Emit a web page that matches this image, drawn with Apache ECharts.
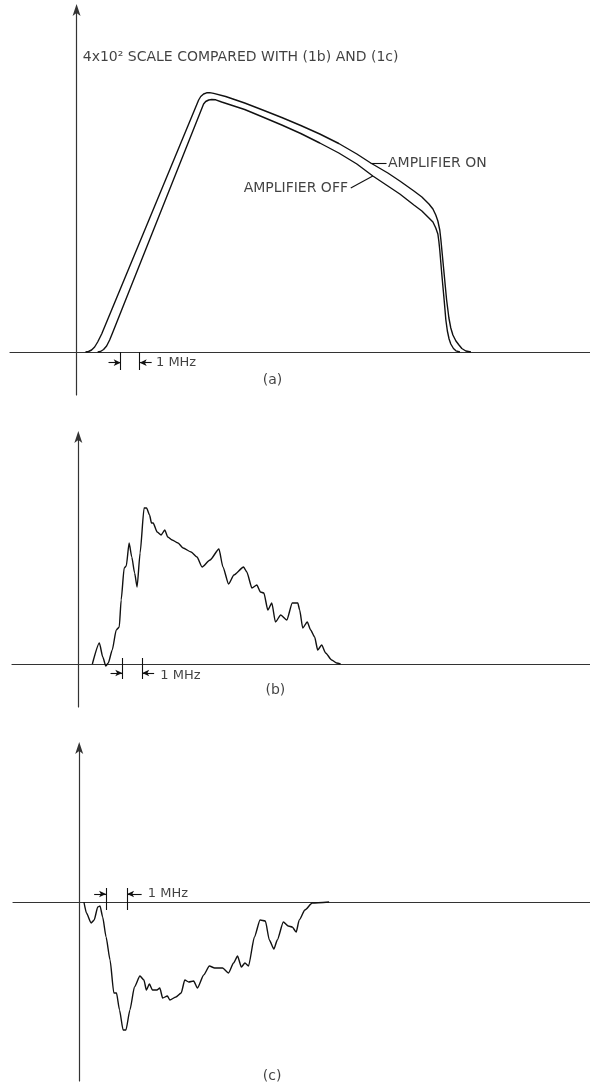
<!DOCTYPE html>
<html><head><meta charset="utf-8">
<script src="https://cdn.jsdelivr.net/npm/echarts@6/dist/echarts.min.js"></script>
<style>html,body{margin:0;padding:0;background:#fff}#c{width:590px;height:1084px}</style>
</head><body><div id="c"></div>
<script>
// x: frequency offset in MHz from the vertical axis; y: relative amplitude (arbitrary units)
// Panel (a)
const aOnX  = [0.47,0.63,0.79,0.95,1.11,1.32,6.42,6.53,6.68,6.84,7.0,7.21,7.84,8.84,9.79,10.79,11.79,12.79,13.79,14.74,15.47,16.37,17.0,17.74,18.16,18.53,18.74,18.89,19.0,19.1,19.16,19.26,19.46,19.58,19.68,19.79,19.95,20.11,20.26,20.47,20.74];
const aOnY  = [0,0.05,0.2,0.5,1.0,1.8,25.2,25.55,25.8,25.92,25.94,25.86,25.55,24.9,24.2,23.45,22.65,21.8,20.85,19.8,18.9,17.9,17.1,16.1,15.5,14.8,14.3,13.7,13.1,12.2,11.2,9.2,5.2,3.4,2.4,1.7,1.1,0.7,0.35,0.1,0];
const aOffX = [1.11,1.26,1.42,1.58,1.74,1.89,6.68,6.79,6.95,7.11,7.32,7.63,8.84,9.79,10.79,11.79,12.79,13.79,14.74,15.58,16.37,17.0,17.74,18.16,18.53,18.74,18.89,19.0,19.05,19.1,19.21,19.33,19.42,19.5,19.59,19.68,19.82,19.95,20.16];
const aOffY = [0,0.05,0.25,0.6,1.2,1.9,24.8,25.05,25.2,25.25,25.22,25.0,24.25,23.5,22.7,21.85,20.9,19.9,18.8,17.6,16.6,15.8,14.7,14.1,13.4,13.0,12.4,11.8,11.1,10.2,7.7,5.2,3.2,2.1,1.3,0.8,0.35,0.12,0];
// Panel (b)
const bX = [0.74,1.11,1.29,1.45,1.58,1.79,2.0,2.16,2.26,2.42,2.53,2.68,2.82,2.97,3.1,3.26,3.47,3.6,3.76,3.86,3.95,4.16,4.37,4.56,4.72,4.95,5.26,5.53,5.95,6.26,6.53,6.95,7.42,7.63,7.93,8.21,8.72,8.89,9.16,9.42,9.61,9.79,10.0,10.21,10.4,10.68,11.0,11.29,11.58,11.68,11.84,12.08,12.26,12.47,12.63,12.84,13.05,13.37,13.63,13.84];
const bY = [0,2.1,0.7,-0.2,0.1,1.4,3.4,3.7,6.4,9.6,9.8,12.1,10.7,9.1,7.7,11.1,15.6,15.6,14.9,14.1,14.1,13.2,12.9,13.4,12.7,12.4,12.1,11.6,11.2,10.7,9.7,10.4,11.5,9.7,8.0,8.9,9.7,9.2,7.6,7.9,7.2,7.1,5.4,6.1,4.2,4.9,4.4,6.1,6.1,5.4,3.6,4.2,3.4,2.7,1.4,1.9,1.1,0.4,0.1,0];
// Panel (c)
const cX = [0.25,0.38,0.63,0.79,0.98,1.1,1.24,1.42,1.63,1.83,1.97,2.13,2.32,2.47,2.68,2.92,3.21,3.42,3.55,3.71,3.87,4.11,4.26,4.41,4.66,4.79,5.11,5.39,5.58,5.79,6.05,6.25,6.58,6.88,7.16,7.58,7.89,8.16,8.37,8.57,8.76,8.95,9.26,9.56,9.84,10.05,10.29,10.47,10.79,11.05,11.26,11.47,11.63,11.93,12.32,13.21];
const cY = [0,-1.1,-2.1,-1.8,-0.5,-0.4,-1.5,-3.5,-5.8,-9.1,-9.1,-10.8,-12.8,-12.8,-10.8,-8.5,-7.4,-7.8,-8.8,-8.2,-8.8,-8.8,-8.6,-9.6,-9.4,-9.8,-9.5,-9.1,-7.8,-8.0,-7.9,-8.6,-7.3,-6.4,-6.6,-6.6,-7.1,-6.1,-5.4,-6.5,-6.1,-6.4,-3.5,-1.8,-1.9,-3.8,-4.7,-3.8,-2.0,-2.4,-2.5,-3.0,-1.8,-0.8,-0.1,0];
// 1 MHz scale markers (MHz)
const mhzA = [2.32, 3.32];
const mhzB = [2.32, 3.37];
const mhzC = [1.42, 2.53];
// Texts
const titleText = '4x10² SCALE COMPARED WITH (1b) AND (1c)';
const labelOn = 'AMPLIFIER ON';
const labelOff = 'AMPLIFIER OFF';
const mhzText = '1 MHz';
const panelNames = ['(a)', '(b)', '(c)'];

const zip = (xs, ys) => xs.map((x, i) => [x, ys[i]]);
const INK = '#111';
const FONT = 'DejaVu Sans';

const grids = [
  {left: 10, width: 580, top: 10, height: 385},
  {left: 12, width: 580, top: 437, height: 270},
  {left: 13, width: 580, top: 748, height: 333}
];
const yRanges = [[-4.3, 34.2], [-4.3, 22.7], [-17.9, 15.4]];

const xAxes = grids.map((g, i) => ({
  type: 'value', gridIndex: i, min: -3.5, max: 27,
  axisLine: {show: true, onZero: true, lineStyle: {color: '#333', width: 1.2}},
  axisTick: {show: false}, axisLabel: {show: false}, splitLine: {show: false}
}));
const yAxes = grids.map((g, i) => ({
  type: 'value', gridIndex: i, min: yRanges[i][0], max: yRanges[i][1],
  axisLine: {show: true, onZero: true, symbol: ['none', 'arrow'], symbolSize: [6, 12], symbolOffset: [0, 6],
    lineStyle: {color: '#333', width: 1.2}},
  axisTick: {show: false}, axisLabel: {show: false}, splitLine: {show: false}
}));

const curve = (data, i, smooth) => ({
  type: 'line', xAxisIndex: i, yAxisIndex: i, data, showSymbol: false, symbol: 'none',
  smooth: smooth, smoothMonotone: 'x', silent: true,
  lineStyle: {color: INK, width: 1.4}
});

function scaleMarker(xs, yTop, yBot, yArr, leftStart, rightStart) {
  return [
    [{coord: [xs[0], yTop]}, {coord: [xs[0], yBot]}],
    [{coord: [xs[1], yTop]}, {coord: [xs[1], yBot]}],
    [{coord: [leftStart, yArr]}, {coord: [xs[0], yArr], symbol: 'arrow', symbolSize: [5, 7]}],
    [{coord: [rightStart, yArr]}, {coord: [xs[1], yArr], symbol: 'arrow', symbolSize: [5, 7]}]
  ];
}

const textStyle = {color: INK, fontFamily: FONT, fontSize: 14};
function textSeries(i, items, extraMarkLines) {
  return {
    type: 'scatter', xAxisIndex: i, yAxisIndex: i, symbolSize: 1, silent: true,
    itemStyle: {color: 'transparent'},
    data: items.map(t => ({
      value: t.at, name: t.text,
      label: Object.assign({show: true, formatter: t.text, position: t.pos || 'right', distance: 0}, textStyle, t.style || {})
    })),
    markLine: {
      silent: true, animation: false, symbol: ['none', 'none'], label: {show: false},
      lineStyle: {color: INK, width: 1.1, type: 'solid'},
      emphasis: {disabled: true},
      data: extraMarkLines
    }
  };
}

const leaders = [
  [{coord: [15.47, 18.9]}, {coord: [16.3, 18.9]}],
  [{coord: [14.42, 16.4], lineStyle: {curveness: -0.3}}, {coord: [15.58, 17.6]}]
];

const option = {
  animation: false,
  backgroundColor: '#fff',
  grid: grids,
  xAxis: xAxes,
  yAxis: yAxes,
  series: [
    curve(zip(aOnX, aOnY), 0, false),
    curve(zip(aOffX, aOffY), 0, false),
    curve(zip(bX, bY), 1, 0.2),
    curve(zip(cX, cY), 2, 0.2),
    textSeries(0, [
      {at: [0.3, 29.5], text: titleText},
      {at: [16.35, 18.9], text: labelOn},
      {at: [14.3, 16.4], text: labelOff, pos: 'left'},
      {at: [4.15, -1.1], text: mhzText, style: {fontSize: 13}},
      {at: [10.3, -2.8], text: panelNames[0], pos: 'inside'}
    ], scaleMarker(mhzA, 0, -1.8, -1.07, 1.68, 3.95).concat(leaders)),
    textSeries(1, [
      {at: [4.3, -1.2], text: mhzText, style: {fontSize: 13}},
      {at: [10.4, -2.6], text: panelNames[1], pos: 'inside'}
    ], scaleMarker(mhzB, 0.6, -1.5, -0.9, 1.7, 4.0)),
    textSeries(2, [
      {at: [3.6, 0.8], text: mhzText, style: {fontSize: 13}},
      {at: [10.2, -17.4], text: panelNames[2], pos: 'inside'}
    ], scaleMarker(mhzC, 1.4, -0.8, 0.8, 0.79, 3.3))
  ]
};
const chart = echarts.init(document.getElementById('c'), null, {renderer: 'canvas'});
chart.setOption(option);
</script>
</body></html>
